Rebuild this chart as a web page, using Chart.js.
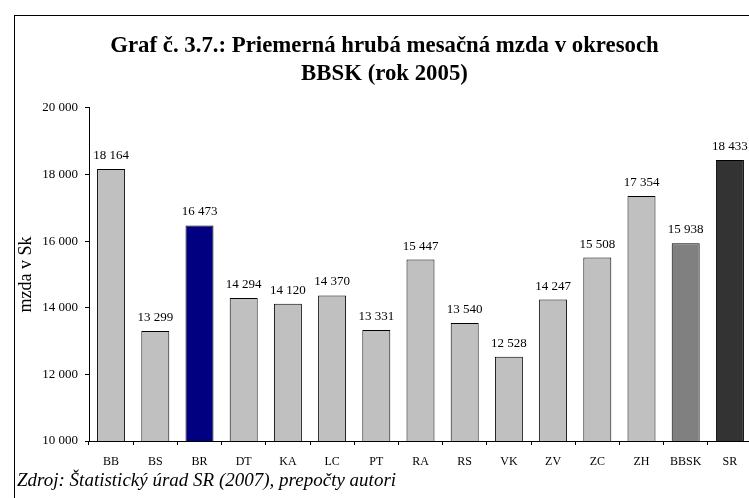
<!DOCTYPE html>
<html><head><meta charset="utf-8">
<script src="https://cdn.jsdelivr.net/npm/chart.js@4.4.0/dist/chart.umd.min.js"></script>
<style>
html,body{margin:0;padding:0;overflow:hidden;background:#fff;width:749px;height:498px;}
#frame{position:absolute;left:14px;top:15px;width:900px;height:600px;border:1px solid #000;box-sizing:border-box;}
#c{position:absolute;left:0;top:0;}
</style></head><body>
<div id="frame"></div>
<canvas id="c" width="770" height="498"></canvas>
<script>
const categories = ['BB','BS','BR','DT','KA','LC','PT','RA','RS','VK','ZV','ZC','ZH','BBSK','SR'];
const wages = [18164,13299,16473,14294,14120,14370,13331,15447,13540,12528,14247,15508,17354,15938,18433];
const barColors = ['#C0C0C0','#C0C0C0','#000080','#C0C0C0','#C0C0C0','#C0C0C0','#C0C0C0','#C0C0C0','#C0C0C0','#C0C0C0','#C0C0C0','#C0C0C0','#C0C0C0','#808080','#333333'];
const titleLines = ['Graf č. 3.7.: Priemerná hrubá mesačná mzda v okresoch','BBSK (rok 2005)'];
const yAxisTitle = 'mzda v Sk';
const sourceNote = 'Zdroj: Štatistický úrad SR (2007), prepočty autori';
const yMin = 10000, yMax = 20000, yStep = 2000;

const SERIF = '"Liberation Serif", "Times New Roman", serif';
Chart.defaults.font.family = SERIF;
Chart.defaults.color = '#000';

function fmt(v){ return String(Math.round(v)).replace(/\B(?=(\d{3})+(?!\d))/g,' '); }

const valueLabels = {
  id:'valueLabels',
  afterDatasetsDraw(chart){
    const ctx = chart.ctx;
    const meta = chart.getDatasetMeta(0);
    ctx.save();
    ctx.font = '13px ' + SERIF;
    ctx.fillStyle = '#000';
    ctx.textAlign = 'center';
    ctx.textBaseline = 'alphabetic';
    meta.data.forEach((bar,i)=>{ ctx.fillText(fmt(wages[i]), bar.x, bar.y - 10); });
    ctx.restore();
  }
};

new Chart(document.getElementById('c'), {
  type:'bar',
  data:{
    labels:categories,
    datasets:[{data:wages, backgroundColor:barColors, borderColor:'#000', borderWidth:1,
      barPercentage:0.633, categoryPercentage:1.0}]
  },
  options:{
    responsive:false, animation:false,
    layout:{padding:{left:17,right:18,top:0,bottom:0}},
    plugins:{
      legend:{display:false}, tooltip:{enabled:false},
      title:{display:true, text:titleLines, color:'#000',
        font:{family:SERIF,size:22.8,weight:'bold',lineHeight:1.215},
        padding:{top:32.4,bottom:20.1}},
      subtitle:{display:true, position:'bottom', align:'start', text:sourceNote, color:'#000',
        font:{family:SERIF,size:19,style:'italic',lineHeight:1.2},
        padding:{top:0,bottom:6}}
    },
    scales:{
      x:{
        grid:{display:true, drawOnChartArea:false, drawTicks:true, tickLength:4, color:'#000', offset:true},
        border:{display:true, color:'#000', width:1},
        ticks:{color:'#000', font:{family:SERIF,size:12}, padding:9.8, maxRotation:0, autoSkip:false},
        afterFit(s){ s.height = 28.2; }
      },
      y:{
        min:yMin, max:yMax,
        grid:{display:true, drawOnChartArea:false, drawTicks:true, tickLength:4, color:'#000'},
        border:{display:true, color:'#000', width:1},
        ticks:{stepSize:yStep, callback:v=>fmt(v), color:'#000', font:{family:SERIF,size:13}, padding:7},
        title:{display:true, text:yAxisTitle, color:'#000', font:{family:SERIF,size:18,lineHeight:1}, padding:0},
        afterFit(s){ s.width = 72; }
      }
    }
  },
  plugins:[valueLabels]
});
</script>
</body></html>
